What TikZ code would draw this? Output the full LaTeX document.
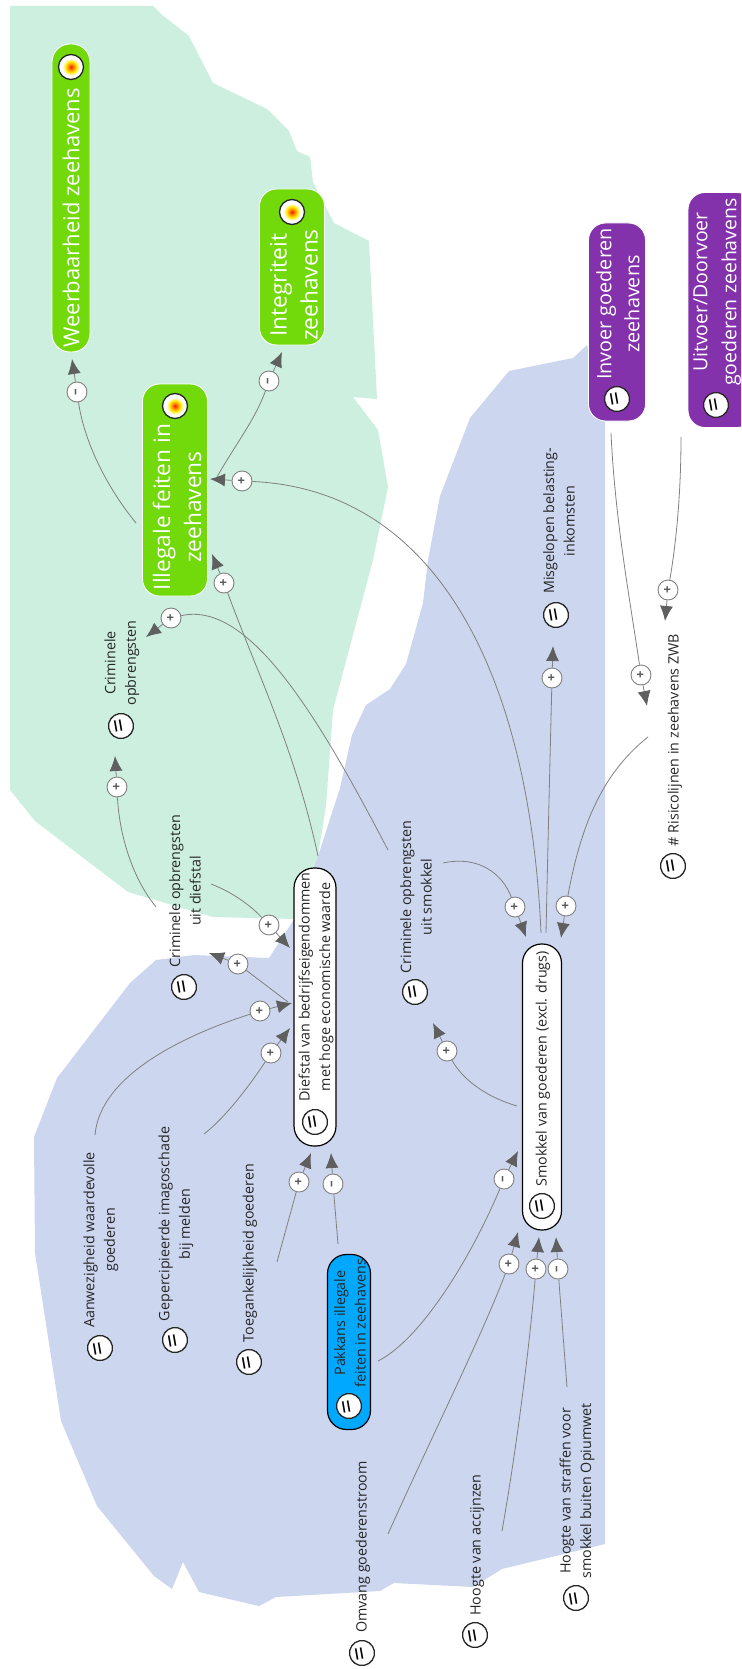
\documentclass[tikz,border=0pt]{standalone}
\usepackage{fontspec}
\setmainfont{Open Sans}
\usepackage{tikz}
\usetikzlibrary{arrows.meta,shapes.geometric}
\definecolor{zonegreen}{HTML}{CDEFE0}
\definecolor{zoneblue}{HTML}{CCD6EF}
\definecolor{goalgreen}{HTML}{72D90A}
\definecolor{flowpurple}{HTML}{8431AC}
\definecolor{leverblue}{HTML}{00A8FF}
\definecolor{linegray}{HTML}{808080}
\definecolor{tipgray}{HTML}{5F5F5F}
\pgfdeclareradialshading{targetshade}{\pgfpoint{0bp}{0bp}}{color(0bp)=(red!85!orange);color(5bp)=(orange);color(11bp)=(yellow!85!orange);color(17bp)=(white);color(25bp)=(white);color(50bp)=(white)}
\tikzset{
	goalbox/.style={rectangle,draw=white,line width=0.9pt,fill=goalgreen,rotate=90},
	flowbox/.style={rectangle,draw=white,line width=0.9pt,fill=flowpurple,rotate=90},
	varbox/.style={rectangle,draw=black,line width=1.2pt,fill=white,rotate=90},
	leverbox/.style={rectangle,draw=black,line width=1.2pt,fill=leverblue,rotate=90},
	biglabel/.style={rotate=90,text=white,align=center,font=\fontsize{22.7}{31}\selectfont},
	smalllabel/.style={rotate=90,text=black!85,align=center,font=\fontsize{14.3}{20.5}\selectfont},
	eqicon/.style={circle,draw=black!85,line width=1.3pt,fill=white,minimum size=25pt,inner sep=0pt,rotate=100,font=\fontsize{25}{25}\selectfont},
	targeticon/.style={circle,draw=black!85,line width=1.3pt,shading=targetshade,minimum size=25pt,inner sep=0pt},
	signnode/.style={circle,draw=linegray,fill=white,line width=0.9pt,minimum size=20pt,inner sep=0pt,rotate=90,text=black!65,font=\bfseries\fontsize{13}{13}\selectfont},
	link/.style={draw=linegray,line width=0.8pt},
	tiplink/.style={draw=linegray,line width=0.8pt,-{Latex[length=15pt,width=13pt,color=tipgray]}},
}

\begin{document}
\begin{tikzpicture}[x=1pt,y=-1pt]
	\useasboundingbox (0,0) rectangle (741,1669);
	\clip (0,0) rectangle (741,1669);
	% zones
	\fill [zonegreen] (10,6) -- (153,6) -- (161,14) -- (189,36) -- (213,83) -- (267,109) -- (289,131) -- (297,151) -- (310,157) -- (313,182) -- (334,223) -- (369,241) -- (377,399) -- (353,397) -- (378,430) -- (388,487) -- (373,560) -- (333,710) -- (326,806) -- (318,856) -- (293,919) -- (213,917) -- (128,892) -- (35,821) -- (10,790) -- cycle;
	\fill [zoneblue] (587,345) -- (573,358) -- (509,371) -- (470,418) -- (440,496) -- (428,560) -- (423,603) -- (406,664) -- (390,689) -- (366,705) -- (352,735) -- (340,788) -- (318,856) -- (293,921) -- (269,958) -- (194,955) -- (156,960) -- (130,983) -- (57,1078) -- (34,1137) -- (35,1253) -- (61,1421) -- (97,1506) -- (154,1576) -- (172,1589) -- (183,1562) -- (199,1592) -- (259,1606) -- (276,1597) -- (380,1591) -- (394,1583) -- (473,1587) -- (502,1569) -- (605,1544) -- (605,400) -- cycle;
	% boxes
	\node (weerbox) [goalbox,rounded corners=18pt,minimum width=308pt,minimum height=38pt] at (71,198) {};
	\node (integbox) [goalbox,rounded corners=17pt,minimum width=156pt,minimum height=65pt] at (292,267) {};
	\node (illegbox) [goalbox,rounded corners=17pt,minimum width=212pt,minimum height=65pt] at (175,490) {};
	\node (invoerbox) [flowbox,rounded corners=17pt,minimum width=198pt,minimum height=57pt] at (617,322) {};
	\node (uitvoerbox) [flowbox,rounded corners=17pt,minimum width=235pt,minimum height=66pt] at (721,310) {};
	\node (diefbox) [varbox,rounded corners=20pt,minimum width=278pt,minimum height=42pt] at (315,1007) {};
	\node (smokbox) [varbox,rounded corners=19pt,minimum width=286pt,minimum height=39pt] at (542,1087) {};
	\node (pakbox) [leverbox,rounded corners=19pt,minimum width=175pt,minimum height=43pt] at (349,1342) {};
	% labels
	\node (weerlabel) [biglabel,font=\fontsize{22}{31}\selectfont] at (71,218) {Weerbaarheid zeehavens};
	\node (integlabel) [biglabel] at (294,285) {Integriteit\\zeehavens};
	\node (illeglabel) [biglabel] at (177,507) {Illegale feiten in\\zeehavens};
	\node (invoerlabel) [biglabel,font=\fontsize{19.8}{28}\selectfont] at (618,304) {Invoer goederen\\zeehavens};
	\node (uitvoerlabel) [biglabel,font=\fontsize{19.5}{29}\selectfont] at (717,292) {Uitvoer/Doorvoer\\goederen zeehavens};
	\node (dieflabel) [smalllabel] at (316,987) {Diefstal van bedrijfseigendommen\\met hoge economische waarde};
	\node (smoklabel) [smalllabel] at (543,1069) {Smokkel van goederen (excl. drugs)};
	\node (paklabel) [smalllabel] at (350,1323) {Pakkans illegale\\feiten in zeehavens};
	\node (misglabel) [smalllabel] at (559,521) {Misgelopen belasting-\\inkomsten};
	\node (opbrlabel) [smalllabel] at (122,663) {Criminele\\opbrengsten};
	\node (risiclabel) [smalllabel] at (675,740) {\# Risicolijnen in zeehavens ZWB};
	\node (opbrdieflabel) [smalllabel] at (185,891) {Criminele opbrengsten\\uit diefstal};
	\node (opbrsmoklabel) [smalllabel] at (416,897) {Criminele opbrengsten\\uit smokkel};
	\node (aanwlabel) [smalllabel] at (101,1240) {Aanwezigheid waardevolle\\goederen};
	\node (geperclabel) [smalllabel] at (176,1224) {Gepercipieerde imagoschade\\bij melden};
	\node (toeglabel) [smalllabel] at (250,1253) {Toegankelijkheid goederen};
	\node (omvlabel) [smalllabel] at (363,1547) {Omvang goederenstroom};
	\node (accijnslabel) [smalllabel] at (477,1545) {Hoogte van accijnzen};
	\node (straflabel) [smalllabel] at (577,1491) {Hoogte van straffen voor\\smokkel buiten Opiumwet};
	% icons
	\node (weertarget) [targeticon] at (71,67) {};
	\node (integtarget) [targeticon] at (292,212) {};
	\node (illegtarget) [targeticon] at (175,406) {};
	\node (invoereq) [eqicon] at (617,399) {=};
	\node (uitvoereq) [eqicon] at (716,405) {=};
	\node (diefeq) [eqicon] at (315,1122) {=};
	\node (smokeq) [eqicon] at (542,1206) {=};
	\node (pakeq) [eqicon] at (349,1406) {=};
	\node (misgeq) [eqicon] at (556,615) {=};
	\node (opbreq) [eqicon] at (121,726) {=};
	\node (risiceq) [eqicon] at (673,866) {=};
	\node (opbrdiefeq) [eqicon] at (184,987) {=};
	\node (opbrsmokeq) [eqicon] at (415,992) {=};
	\node (aanweq) [eqicon] at (100,1348) {=};
	\node (perceq) [eqicon] at (175,1340) {=};
	\node (toegeq) [eqicon] at (249,1362) {=};
	\node (omveq) [eqicon] at (362,1653) {=};
	\node (accijnseq) [eqicon] at (475,1635) {=};
	\node (strafeq) [eqicon] at (576,1598) {=};
	% signs
	\node (s1) [signnode] at (77,392) {–};
	\node (s2) [signnode] at (269,381) {–};
	\node (s3) [signnode] at (242,481) {+};
	\node (s4) [signnode] at (224,583) {+};
	\node (s5) [signnode] at (171,618) {+};
	\node (s6) [signnode] at (552,678) {+};
	\node (s7) [signnode] at (641,675) {+};
	\node (s8) [signnode] at (668,590) {+};
	\node (s9) [signnode] at (566,906) {+};
	\node (s10) [signnode] at (515,907) {+};
	\node (s11) [signnode] at (117,787) {+};
	\node (s12) [signnode] at (269,925) {+};
	\node (s13) [signnode] at (238,964) {+};
	\node (s14) [signnode] at (260,1011) {+};
	\node (s15) [signnode] at (271,1053) {+};
	\node (s16) [signnode] at (299,1182) {+};
	\node (s17) [signnode] at (333,1184) {–};
	\node (s18) [signnode] at (504,1179) {–};
	\node (s19) [signnode] at (509,1264) {+};
	\node (s20) [signnode] at (536,1269) {+};
	\node (s21) [signnode] at (558,1269) {–};
	\node (s22) [signnode] at (447,1051) {+};
	% connector ends
	\coordinate (f1) at (136,523);   \coordinate (t1) at (72,359);
	\coordinate (f2) at (217,477);   \coordinate (t2) at (282,352);
	\coordinate (f3) at (541,933);   \coordinate (t3) at (210,479);
	\coordinate (f4) at (318,856);   \coordinate (t4) at (212,554);
	\coordinate (f5) at (388,850);   \coordinate (t5) at (146,637);
	\coordinate (f6) at (546,933);   \coordinate (t6) at (553,646);
	\coordinate (f7) at (611,433);   \coordinate (t7) at (647,706);
	\coordinate (f8) at (681,437);   \coordinate (t8) at (665,621);
	\coordinate (f9) at (648,737);   \coordinate (t9) at (561,938);
	\coordinate (f10) at (443,863);  \coordinate (t10) at (526,937);
	\coordinate (f11) at (156,907);  \coordinate (t11) at (115,756);
	\coordinate (f12) at (211,884);  \coordinate (t12) at (290,948);
	\coordinate (f13) at (288,1002); \coordinate (t13) at (209,953);
	\coordinate (f14) at (95,1135);  \coordinate (t14) at (292,1003);
	\coordinate (f15) at (204,1134); \coordinate (t15) at (290,1028);
	\coordinate (f16) at (277,1262); \coordinate (t16) at (311,1153);
	\coordinate (f17) at (338,1244); \coordinate (t17) at (331,1153);
	\coordinate (f18) at (378,1361); \coordinate (t18) at (518,1151);
	\coordinate (f19) at (388,1534); \coordinate (t19) at (518,1232);
	\coordinate (f20) at (502,1531); \coordinate (t20) at (539,1237);
	\coordinate (f21) at (567,1387); \coordinate (t21) at (556,1237);
	\coordinate (f22) at (517,1106); \coordinate (t22) at (433,1023);
	% connectors
	\draw [link] (f1) .. controls (105,485) and (84,440) .. (s1);
	\draw [tiplink] (s1) to (t1);
	\draw [link] (f2) .. controls (235,445) and (255,420) .. (s2);
	\draw [tiplink] (s2) to (t2);
	\draw [link] (f3) .. controls (530,680) and (440,490) .. (s3);
	\draw [tiplink] (s3) to (t3);
	\draw [link] (f4) .. controls (295,750) and (260,680) .. (s4);
	\draw [tiplink] (s4) to (t4);
	\draw [link] (f5) .. controls (320,720) and (250,600) .. (s5);
	\draw [tiplink] (s5) to (t5);
	\draw [link] (f6) .. controls (548,840) and (550,760) .. (s6);
	\draw [tiplink] (s6) to (t6);
	\draw [link] (f7) .. controls (615,520) and (630,600) .. (s7);
	\draw [tiplink] (s7) to (t7);
	\draw [link] (f8) .. controls (681,500) and (675,550) .. (s8);
	\draw [tiplink] (s8) to (t8);
	\draw [link] (f9) .. controls (600,775) and (580,830) .. (s9);
	\draw [tiplink] (s9) to (t9);
	\draw [link] (f10) .. controls (480,855) and (503,875) .. (s10);
	\draw [tiplink] (s10) to (t10);
	\draw [link] (f11) .. controls (130,875) and (119,830) .. (s11);
	\draw [tiplink] (s11) to (t11);
	\draw [link] (f12) .. controls (232,892) and (250,905) .. (s12);
	\draw [tiplink] (s12) to (t12);
	\draw [link] (f13) to (s13);
	\draw [tiplink] (s13) to (t13);
	\draw [link] (f14) .. controls (100,1075) and (185,1035) .. (s14);
	\draw [tiplink] (s14) to (t14);
	\draw [link] (f15) .. controls (225,1118) and (250,1085) .. (s15);
	\draw [tiplink] (s15) to (t15);
	\draw [link] (f16) to (s16);
	\draw [tiplink] (s16) to (t16);
	\draw [link] (f17) to (s17);
	\draw [tiplink] (s17) to (t17);
	\draw [link] (f18) .. controls (420,1340) and (470,1260) .. (s18);
	\draw [tiplink] (s18) to (t18);
	\draw [link] (f19) .. controls (430,1440) and (480,1340) .. (s19);
	\draw [tiplink] (s19) to (t19);
	\draw [link] (f20) .. controls (518,1440) and (530,1340) .. (s20);
	\draw [tiplink] (s20) to (t20);
	\draw [link] (f21) to (s21);
	\draw [tiplink] (s21) to (t21);
	\draw [link] (f22) .. controls (480,1095) and (460,1075) .. (s22);
	\draw [tiplink] (s22) to (t22);
\end{tikzpicture}
\end{document}
